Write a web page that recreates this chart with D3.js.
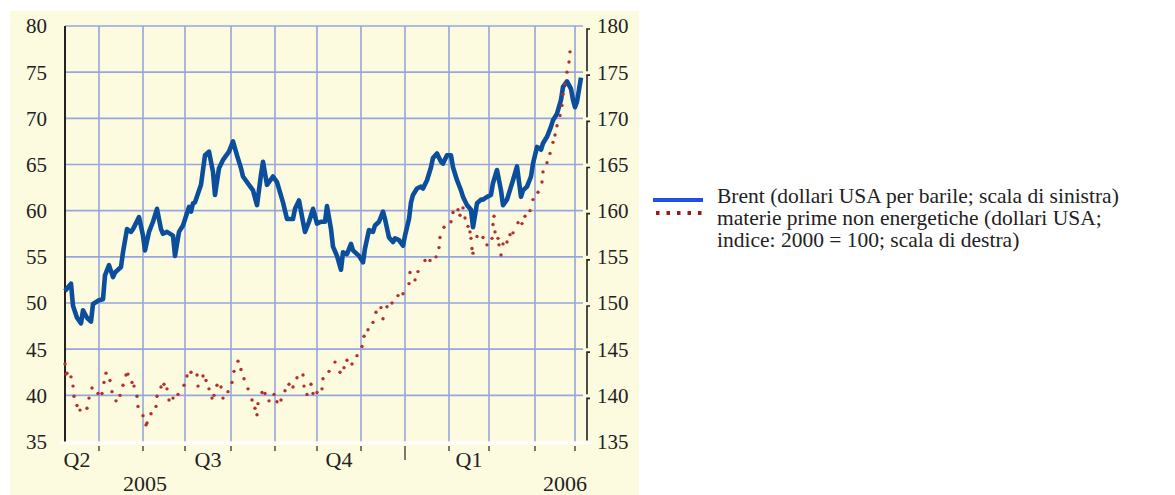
<!DOCTYPE html>
<html>
<head>
<meta charset="utf-8">
<script src="https://cdn.jsdelivr.net/npm/d3@7"></script>
<style>
  body { margin: 0; background: #ffffff; }
  svg { display: block; }
  text { font-family: "Liberation Serif", "Times New Roman", serif; fill: #222222; }
</style>
</head>
<body>
<svg id="chart" width="1175" height="495"></svg>
<script>
// Brent, dollars per barrel (left scale): [trading day, value]
const brent = [
  [0,51.3],[3,52.1],[4,49.7],[6,48.4],[8,47.8],[9,49.2],[11,48.4],[13,48.0],[14,49.9],[17,50.3],
  [19,50.4],[20,53.0],[22,54.1],[24,52.8],[25,53.3],[28,53.9],[29,55.5],[31,58.0],[33,57.7],[34,58.0],
  [37,59.3],[39,57.3],[40,55.7],[42,57.7],[44,58.8],[46,60.2],[48,58.0],[49,57.5],[51,57.7],[54,57.3],
  [55,55.1],[57,57.7],[59,58.4],[62,60.4],[63,59.9],[64,60.8],[65,60.9],[68,62.8],[70,66.0],[72,66.4],
  [74,64.2],[75,61.7],[77,64.6],[79,65.5],[82,66.4],[84,67.5],[86,66.0],[88,64.6],[89,63.7],[92,62.8],
  [94,62.2],[96,60.6],[98,63.9],[99,65.3],[101,62.8],[104,63.7],[106,63.1],[109,60.9],[111,59.1],[114,59.1],
  [115,60.2],[117,61.1],[119,58.8],[120,57.7],[122,58.8],[124,60.2],[126,58.6],[128,58.8],[130,58.8],[131,60.5],
  [133,58.0],[134,56.1],[136,55.1],[138,53.6],[139,55.5],[141,55.3],[143,56.4],[144,55.7],[147,55.1],[149,54.4],
  [150,55.9],[152,57.9],[154,57.7],[155,58.4],[157,58.8],[159,59.9],[160,59.1],[162,57.1],[164,56.6],[165,57.0],
  [167,56.8],[169,56.2],[170,57.3],[172,59.1],[173,60.9],[174,61.7],[176,62.4],[178,62.6],[179,62.4],[181,63.3],
  [183,64.7],[184,65.7],[186,66.2],[188,65.3],[189,65.1],[191,66.0],[193,66.0],[194,64.7],[196,63.3],[198,62.2],
  [199,61.5],[201,60.6],[203,60.1],[204,58.2],[206,60.8],[208,61.2],[209,61.2],[211,61.5],[213,61.7],[214,63.0],
  [216,64.4],[218,62.2],[219,60.6],[221,61.2],[223,62.6],[224,63.3],[226,64.8],[228,61.5],[229,62.2],[231,62.6],
  [233,63.7],[234,65.1],[236,66.9],[238,66.6],[239,67.3],[241,68.0],[243,69.1],[244,69.8],[246,70.5],[248,72.0],
  [249,73.4],[251,74.0],[253,73.2],[254,72.0],[255,71.2],[256,71.8],[258,74.4]
];

// non-energy commodities index, 2000 = 100 (right scale): [trading day, value]
const commodities = [
  [0,143.4],[0.5,142.3],[1,142.4],[3,142.0],[4,141.0],[4.5,139.9],[6,138.9],[7.5,138.4],[11,138.6],[12,139.7],
  [13.5,140.8],[16.5,140.2],[18.5,140.2],[19.5,141.4],[20.5,142.4],[22.5,141.6],[23.5,140.4],[25.5,139.4],[27.5,140.0],[29,141.1],
  [30.5,142.2],[31.5,142.3],[33.5,141.4],[34.5,141.0],[36,139.9],[36.5,138.8],[39,137.8],[40.5,136.8],[41,137.0],[43,138.0],
  [45.5,138.8],[46,139.9],[48,140.9],[49.5,141.2],[51,140.7],[52,139.5],[54,139.7],[56.5,140.1],[59.5,141.1],[61,142.1],
  [63,142.5],[66,142.2],[66.5,141.0],[69,142.1],[70.5,141.6],[72,140.7],[73.5,139.7],[74.5,140.0],[76,141.1],[78,140.9],
  [79,139.7],[81.5,140.4],[83.5,141.4],[84.5,142.6],[86.5,143.7],[88,142.8],[89.5,141.8],[91.5,140.7],[93.5,139.5],[95,138.6],
  [96,137.9],[96.5,139.1],[98.5,140.3],[100,140.2],[102,139.4],[104.5,140.1],[106,139.3],[108,139.5],[110,140.5],[112,141.2],
  [114,140.9],[116,141.9],[119,142.2],[119.5,141.0],[121,140.1],[123,141.2],[124,140.2],[126,140.3],[128.5,140.7],[129,141.8],
  [132,142.6],[135,143.6],[137.5,142.5],[139.5,143.0],[141,143.8],[143.5,143.4],[146,144.3],[148.5,145.3],[149.5,146.4],[151.5,147.1],
  [154,147.9],[155.5,149.0],[158,149.5],[159,148.3],[161,149.6],[163.5,150.0],[166.5,150.8],[169,151.0],[172,152.1],[172.5,153.3],
  [175,152.5],[176.5,153.4],[180,154.6],[182.5,154.6],[185.5,155.0],[187,156.0],[187.5,157.1],[189.5,158.2],[193,158.8],[194,159.8],
  [196.5,160.1],[197.5,159.5],[199,160.3],[200,159.2],[201.5,158.3],[202.5,157.7],[203,157.0],[203.5,155.9],[204,155.4],[206,157.2],
  [209,157.1],[211,156.3],[213.5,157.0],[214,158.5],[214.5,159.4],[215,157.7],[216.5,157.0],[217,156.3],[218,155.2],[219,156.4],
  [221,156.6],[222.5,157.4],[224,157.6],[226.5,158.7],[228.5,158.6],[230,159.4],[232.5,160.0],[234,161.2],[236.5,162.0],[238.5,163.1],
  [239,164.2],[241,165.2],[242.5,166.2],[244,167.4],[245,168.2],[246,169.2],[247.5,170.3],[248.5,171.4],[249,172.6],[250,173.7],
  [251,175.0],[252,176.1],[252.5,177.2]
];

// axis ticks and labels
const leftTicks = [35, 40, 45, 50, 55, 60, 65, 70, 75, 80];
const rightTicks = [135, 140, 145, 150, 155, 160, 165, 170, 175, 180];
const firstDay = '2005-05-09';
const lastDay = '2006-05-05';
const quarterLabels = [
  { label: 'Q2', month: '2005-05' },
  { label: 'Q3', month: '2005-08' },
  { label: 'Q4', month: '2005-11' },
  { label: 'Q1', month: '2006-02' }
];
const yearLabels = [
  { label: '2005', date: '2005-07-01' },
  { label: '2006', date: '2006-05-05' }
];
const legendLabels = [
  ['Brent (dollari USA per barile; scala di sinistra)'],
  ['materie prime non energetiche (dollari USA;', 'indice: 2000 = 100; scala di destra)']
];

const svg = d3.select('#chart');

// trading-day calendar (weekdays only), from the start of the first month
const parseDay = d3.timeParse('%Y-%m-%d');
const parseMonth = d3.timeParse('%Y-%m');
const start = parseDay(firstDay);
const end = parseDay(lastDay);
const days = d3.timeDay.range(d3.timeMonth.floor(start), d3.timeDay.offset(end, 1))
  .filter(d => d.getDay() !== 0 && d.getDay() !== 6);
const offset = d3.bisectLeft(days, start);
const dayIndex = date => d3.bisectLeft(days, date) - offset;
const monthStarts = d3.timeMonth.range(d3.timeMonth.ceil(start), end);

// scales
const x = d3.scaleLinear().domain([0, 258.5]).range([65, 582]);
const yLeft = d3.scaleLinear().domain([35, 80]).range([441.5, 26]);
const yRight = d3.scaleLinear().domain([135, 180]).range([441.5, 26]);

// background panel
svg.append('rect')
  .attr('x', 10).attr('y', 11)
  .attr('width', 629).attr('height', 484)
  .attr('fill', '#fcfadf');

// grid
const grid = svg.append('g').attr('stroke', '#97a6dc').attr('stroke-width', 1.6);
grid.selectAll('line.h')
  .data(leftTicks.slice(1))
  .join('line')
  .attr('x1', x(0)).attr('x2', 583)
  .attr('y1', d => yLeft(d)).attr('y2', d => yLeft(d));
grid.selectAll('line.v')
  .data(monthStarts)
  .join('line')
  .attr('x1', d => x(dayIndex(d))).attr('x2', d => x(dayIndex(d)))
  .attr('y1', yLeft(80)).attr('y2', yLeft(35));

// white frame at the bottom
svg.append('line')
  .attr('x1', 60).attr('x2', 592)
  .attr('y1', 443).attr('y2', 443)
  .attr('stroke', '#ffffff').attr('stroke-width', 3);

// month ticks below the axis, longer one at the new year
svg.append('g').selectAll('line')
  .data(monthStarts)
  .join('line')
  .attr('x1', d => x(dayIndex(d))).attr('x2', d => x(dayIndex(d)))
  .attr('y1', 446)
  .attr('y2', d => d.getMonth() === 0 ? 460 : 451)
  .attr('stroke', '#333333').attr('stroke-width', 1.3);

// left axis
svg.append('line')
  .attr('x1', x(0)).attr('x2', x(0))
  .attr('y1', yLeft(80)).attr('y2', yLeft(35))
  .attr('stroke', '#222222').attr('stroke-width', 2);

svg.append('g').selectAll('text')
  .data(leftTicks)
  .join('text')
  .attr('x', 47)
  .attr('y', d => yLeft(d))
  .attr('dy', '0.35em')
  .attr('text-anchor', 'end')
  .attr('font-size', '21px')
  .text(d => d);

// right axis: bracket segments between ticks
const rightAxis = svg.append('g')
  .attr('stroke', '#222222').attr('stroke-width', 1.6).attr('fill', 'none');
rightAxis.selectAll('path')
  .data(rightTicks.slice(0, -1))
  .join('path')
  .attr('d', d => {
    const top = yRight(d + 5) + 3;
    const bottom = yRight(d) - 1;
    return `M590,${top}H587V${bottom}`;
  });

svg.append('g').selectAll('text')
  .data(rightTicks)
  .join('text')
  .attr('x', 597)
  .attr('y', d => yRight(d))
  .attr('dy', '0.35em')
  .attr('font-size', '21px')
  .text(d => d);

// quarter labels, centred on the middle month of each quarter
svg.append('g').selectAll('text')
  .data(quarterLabels)
  .join('text')
  .attr('x', d => {
    const m = parseMonth(d.month);
    const a = dayIndex(m);
    const b = dayIndex(d3.timeMonth.offset(m, 1));
    return x((a + b) / 2);
  })
  .attr('y', 467)
  .attr('text-anchor', 'middle')
  .attr('font-size', '22px')
  .text(d => d.label);

// year labels
svg.append('g').selectAll('text')
  .data(yearLabels)
  .join('text')
  .attr('x', (d, i) => i === 0 ? x(dayIndex(parseDay(d.date))) + 2 : 587)
  .attr('y', 491)
  .attr('text-anchor', (d, i) => i === 0 ? 'middle' : 'end')
  .attr('font-size', '22px')
  .text(d => d.label);

// Brent line
const line = d3.line()
  .x(d => x(d[0]))
  .y(d => yLeft(d[1]));

svg.append('path')
  .datum(brent)
  .attr('d', line)
  .attr('fill', 'none')
  .attr('stroke', '#0a4e9c')
  .attr('stroke-width', 4.6)
  .attr('stroke-linejoin', 'round');

// commodities: dotted series
svg.append('g').selectAll('circle')
  .data(commodities)
  .join('circle')
  .attr('cx', d => x(d[0]))
  .attr('cy', d => yRight(d[1]))
  .attr('r', 1.7)
  .attr('fill', '#b0302c');

// legend
const legend = svg.append('g');
legend.append('line')
  .attr('x1', 653).attr('x2', 703)
  .attr('y1', 200).attr('y2', 200)
  .attr('stroke', '#1f4ee6').attr('stroke-width', 4);
legend.append('line')
  .attr('x1', 656).attr('x2', 703)
  .attr('y1', 213).attr('y2', 213)
  .attr('stroke', '#a01818').attr('stroke-width', 4)
  .attr('stroke-dasharray', '3.5 7');

const legendLines = legendLabels.flat();
legend.selectAll('text')
  .data(legendLines)
  .join('text')
  .attr('x', 717)
  .attr('y', (d, i) => 203 + i * 22)
  .attr('font-size', '21.5px')
  .text(d => d);
</script>
</body>
</html>
